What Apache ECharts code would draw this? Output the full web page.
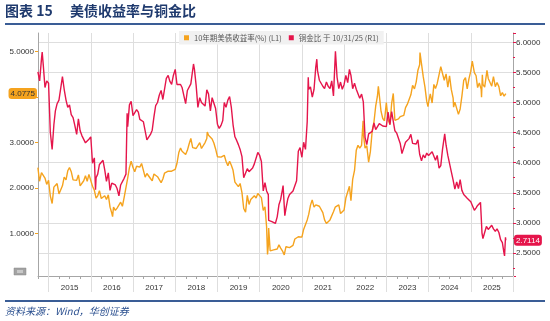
<!DOCTYPE html>
<html>
<head>
<meta charset="utf-8">
<script src="https://cdn.jsdelivr.net/npm/echarts@6/dist/echarts.min.js"></script>
<style>
  html, body { margin: 0; padding: 0; background: #fff; }
  #chart { width: 550px; height: 321px; }
</style>
</head>
<body>
<div id="chart"></div>
<script>
// ---- data -------------------------------------------------------------
const yearLabels = ['2015', '2016', '2017', '2018', '2019', '2020', '2021', '2022', '2023', '2024', '2025'];

// 10-year US Treasury yield (%), left axis
const yieldDates = [
  '2014-10-01','2014-10-15','2014-11-01','2014-11-16','2014-12-01','2014-12-16',
  '2015-01-01','2015-01-16','2015-02-01','2015-02-16','2015-03-01','2015-03-16','2015-04-01','2015-04-16','2015-05-01','2015-05-16','2015-06-01','2015-06-16',
  '2015-07-01','2015-07-16','2015-08-01','2015-08-16','2015-09-01','2015-09-16','2015-10-01','2015-10-16','2015-11-01','2015-11-16','2015-12-01','2015-12-16',
  '2016-01-01','2016-01-16','2016-02-01','2016-02-16','2016-03-01','2016-03-16','2016-04-01','2016-04-16','2016-05-01','2016-05-16','2016-06-01','2016-06-16',
  '2016-07-01','2016-07-08','2016-07-16','2016-08-01','2016-08-16','2016-09-01','2016-09-16','2016-10-01','2016-10-16','2016-11-01','2016-11-16','2016-12-01','2016-12-16',
  '2017-01-01','2017-01-16','2017-02-01','2017-02-16','2017-03-01','2017-03-16','2017-04-01','2017-04-16','2017-05-01','2017-05-16','2017-06-01','2017-06-16',
  '2017-07-01','2017-07-16','2017-08-01','2017-08-16','2017-09-01','2017-09-16','2017-10-01','2017-10-16','2017-11-01','2017-11-16','2017-12-01','2017-12-16',
  '2018-01-01','2018-01-16','2018-02-01','2018-02-16','2018-03-01','2018-03-16','2018-04-01','2018-04-16','2018-05-01','2018-05-16','2018-06-01','2018-06-16',
  '2018-07-01','2018-07-16','2018-08-01','2018-08-16','2018-09-01','2018-09-16','2018-10-01','2018-10-05','2018-10-16','2018-11-01','2018-11-16','2018-12-01','2018-12-16',
  '2019-01-01','2019-01-16','2019-02-01','2019-02-16','2019-03-01','2019-03-16','2019-04-01','2019-04-16','2019-05-01','2019-05-16','2019-06-01','2019-06-16',
  '2019-07-01','2019-07-16','2019-08-01','2019-08-16','2019-09-01','2019-09-16','2019-10-01','2019-10-16','2019-11-01','2019-11-16','2019-12-01','2019-12-16',
  '2020-01-01','2020-01-16','2020-02-01','2020-02-16','2020-03-01','2020-03-09','2020-03-16','2020-03-19','2020-04-01','2020-04-16','2020-05-01','2020-05-16','2020-06-01','2020-06-16',
  '2020-07-01','2020-07-16','2020-08-01','2020-08-16','2020-09-01','2020-09-16','2020-10-01','2020-10-16','2020-11-01','2020-11-16','2020-12-01','2020-12-16',
  '2021-01-01','2021-01-16','2021-02-01','2021-02-16','2021-03-01','2021-03-16','2021-03-31','2021-04-16','2021-05-01','2021-05-16','2021-06-01','2021-06-16',
  '2021-07-01','2021-07-16','2021-08-01','2021-08-16','2021-09-01','2021-09-16','2021-10-01','2021-10-16','2021-11-01','2021-11-16','2021-12-01','2021-12-16',
  '2022-01-01','2022-01-16','2022-02-01','2022-02-16','2022-03-01','2022-03-16','2022-04-01','2022-04-16','2022-05-01','2022-05-16','2022-06-01','2022-06-14','2022-06-16',
  '2022-07-01','2022-07-16','2022-08-01','2022-08-16','2022-09-01','2022-09-16','2022-10-01','2022-10-16','2022-10-24','2022-11-01','2022-11-16','2022-12-01','2022-12-16',
  '2023-01-01','2023-01-16','2023-02-01','2023-02-16','2023-03-02','2023-03-16','2023-04-01','2023-04-16','2023-05-01','2023-05-16','2023-06-01','2023-06-16',
  '2023-07-01','2023-07-16','2023-08-01','2023-08-16','2023-09-01','2023-09-16','2023-10-01','2023-10-16','2023-10-19','2023-11-01','2023-11-16','2023-12-01','2023-12-16','2023-12-27',
  '2024-01-01','2024-01-16','2024-02-01','2024-02-16','2024-03-01','2024-03-16','2024-04-01','2024-04-16','2024-04-25','2024-05-01','2024-05-16','2024-06-01','2024-06-16',
  '2024-07-01','2024-07-16','2024-08-01','2024-08-05','2024-08-16','2024-09-01','2024-09-16','2024-10-01','2024-10-16','2024-11-01','2024-11-16','2024-12-01','2024-12-16',
  '2025-01-01','2025-01-14','2025-02-01','2025-02-16','2025-03-01','2025-03-16','2025-04-01','2025-04-04','2025-04-11','2025-04-16','2025-05-01','2025-05-21','2025-06-01','2025-06-16',
  '2025-07-01','2025-07-16','2025-08-01','2025-08-16','2025-09-01','2025-09-16','2025-10-01','2025-10-16','2025-10-31'
];
const yieldValues = [
  2.45, 2.15, 2.34, 2.32, 2.22, 2.08,
  2.17, 1.83, 1.66, 2.02, 2.00, 2.10, 1.87, 1.88, 2.05, 2.24, 2.18, 2.38,
  2.45, 2.36, 2.18, 2.20, 2.17, 2.29, 2.05, 2.03, 2.16, 2.27, 2.15, 2.30,
  2.27, 2.04, 1.95, 1.78, 1.83, 1.94, 1.77, 1.76, 1.83, 1.75, 1.85, 1.58,
  1.45, 1.37, 1.58, 1.51, 1.56, 1.57, 1.69, 1.60, 1.79, 1.83, 2.22, 2.45, 2.59,
  2.45, 2.36, 2.48, 2.45, 2.46, 2.54, 2.39, 2.24, 2.32, 2.33, 2.21, 2.16,
  2.31, 2.31, 2.25, 2.22, 2.12, 2.20, 2.33, 2.30, 2.37, 2.37, 2.37, 2.35,
  2.41, 2.54, 2.78, 2.88, 2.81, 2.85, 2.74, 2.83, 2.97, 3.09, 2.89, 2.92,
  2.87, 2.85, 3.00, 2.87, 2.86, 3.00, 3.09, 3.23, 3.16, 3.14, 3.08, 2.99, 2.86,
  2.69, 2.72, 2.68, 2.66, 2.72, 2.59, 2.49, 2.59, 2.50, 2.39, 2.13, 2.09,
  2.03, 2.10, 1.90, 1.55, 1.47, 1.84, 1.64, 1.75, 1.73, 1.83, 1.78, 1.88,
  1.92, 1.79, 1.51, 1.59, 1.15, 0.54, 0.73, 1.12, 0.62, 0.63, 0.64, 0.64, 0.66, 0.75,
  0.68, 0.62, 0.53, 0.71, 0.68, 0.69, 0.68, 0.74, 0.88, 0.91, 0.93, 0.92,
  0.92, 1.09, 1.09, 1.30, 1.42, 1.62, 1.74, 1.58, 1.63, 1.64, 1.60, 1.57,
  1.46, 1.30, 1.22, 1.26, 1.30, 1.33, 1.48, 1.58, 1.56, 1.63, 1.44, 1.41,
  1.52, 1.78, 1.79, 2.04, 1.72, 2.19, 2.39, 2.83, 2.94, 2.88, 2.94, 3.48, 3.20,
  2.88, 2.93, 2.57, 2.80, 3.26, 3.45, 3.80, 4.02, 4.24, 4.05, 3.69, 3.53, 3.48,
  3.88, 3.51, 3.40, 3.86, 4.08, 3.49, 3.47, 3.52, 3.57, 3.53, 3.60, 3.77,
  3.84, 3.81, 4.05, 4.26, 4.18, 4.33, 4.59, 4.71, 4.98, 4.73, 4.45, 4.22, 3.91, 3.79,
  3.88, 4.07, 3.87, 4.28, 4.19, 4.30, 4.33, 4.67, 4.70, 4.63, 4.37, 4.51, 4.22,
  4.47, 4.17, 3.98, 3.78, 3.89, 3.91, 3.62, 3.74, 4.02, 4.37, 4.43, 4.18, 4.40,
  4.57, 4.79, 4.54, 4.47, 4.21, 4.31, 4.17, 4.00, 4.49, 4.28, 4.22, 4.59, 4.41, 4.45,
  4.24, 4.45, 4.23, 4.32, 4.23, 4.03, 4.10, 4.02, 4.0775
];

// Copper / gold ratio, right axis
const ratioDates = [
  '2014-10-01','2014-10-16','2014-11-01','2014-11-07','2014-11-16','2014-12-01','2014-12-16',
  '2015-01-01','2015-01-16','2015-02-01','2015-02-16','2015-03-01','2015-03-16','2015-04-01','2015-04-16','2015-05-01','2015-05-16','2015-06-01','2015-06-16',
  '2015-07-01','2015-07-16','2015-08-01','2015-08-16','2015-09-01','2015-09-16','2015-10-01','2015-10-16','2015-11-01','2015-11-16','2015-12-01','2015-12-16',
  '2016-01-01','2016-01-16','2016-02-01','2016-02-11','2016-02-16','2016-03-01','2016-03-16','2016-04-01','2016-04-16','2016-05-01','2016-05-16','2016-06-01','2016-06-16',
  '2016-07-01','2016-07-16','2016-08-01','2016-08-16','2016-09-01','2016-09-16','2016-10-01','2016-10-16','2016-11-01','2016-11-11','2016-11-16','2016-12-01','2016-12-16',
  '2017-01-01','2017-01-16','2017-02-01','2017-02-16','2017-03-01','2017-03-16','2017-04-01','2017-04-16','2017-05-01','2017-05-16','2017-06-01','2017-06-16',
  '2017-07-01','2017-07-16','2017-08-01','2017-08-16','2017-09-01','2017-09-16','2017-10-01','2017-10-16','2017-11-01','2017-11-16','2017-12-01','2017-12-16',
  '2018-01-01','2018-01-16','2018-02-01','2018-02-16','2018-03-01','2018-03-16','2018-04-01','2018-04-16','2018-05-01','2018-05-16','2018-06-01','2018-06-08','2018-06-16',
  '2018-07-01','2018-07-16','2018-08-01','2018-08-16','2018-09-01','2018-09-16','2018-10-01','2018-10-16','2018-11-01','2018-11-16','2018-12-01','2018-12-16',
  '2019-01-01','2019-01-16','2019-02-01','2019-02-16','2019-03-01','2019-03-16','2019-04-01','2019-04-16','2019-05-01','2019-05-16','2019-06-01','2019-06-16',
  '2019-07-01','2019-07-16','2019-08-01','2019-08-16','2019-09-01','2019-09-16','2019-10-01','2019-10-16','2019-11-01','2019-11-16','2019-12-01','2019-12-16',
  '2020-01-01','2020-01-16','2020-02-01','2020-02-16','2020-03-01','2020-03-16','2020-03-19','2020-04-01','2020-04-16','2020-05-01','2020-05-16','2020-06-01','2020-06-16',
  '2020-07-01','2020-07-16','2020-07-22','2020-08-06','2020-08-16','2020-09-01','2020-09-16','2020-10-01','2020-10-16','2020-11-01','2020-11-16','2020-12-01','2020-12-16',
  '2021-01-01','2021-01-16','2021-02-01','2021-02-16','2021-02-25','2021-03-01','2021-03-16','2021-04-01','2021-04-16','2021-05-01','2021-05-10','2021-05-16','2021-06-01','2021-06-16',
  '2021-07-01','2021-07-16','2021-08-01','2021-08-16','2021-09-01','2021-09-16','2021-10-01','2021-10-18','2021-11-01','2021-11-16','2021-12-01','2021-12-16',
  '2022-01-01','2022-01-16','2022-02-01','2022-02-16','2022-03-01','2022-03-16','2022-04-01','2022-04-16','2022-05-01','2022-05-16','2022-06-01','2022-06-16',
  '2022-07-01','2022-07-16','2022-08-01','2022-08-16','2022-09-01','2022-09-16','2022-10-01','2022-10-16','2022-11-01','2022-11-16','2022-12-01','2022-12-16',
  '2023-01-01','2023-01-16','2023-02-01','2023-02-16','2023-03-01','2023-03-16','2023-04-01','2023-04-16','2023-05-01','2023-05-16','2023-06-01','2023-06-16',
  '2023-07-01','2023-07-16','2023-08-01','2023-08-16','2023-09-01','2023-09-16','2023-10-01','2023-10-16','2023-11-01','2023-11-16','2023-12-01','2023-12-16',
  '2024-01-01','2024-01-16','2024-02-01','2024-02-16','2024-03-01','2024-03-16','2024-04-01','2024-04-16','2024-05-01','2024-05-20','2024-06-01','2024-06-16',
  '2024-07-01','2024-07-16','2024-08-01','2024-08-16','2024-09-01','2024-09-16','2024-10-01','2024-10-16','2024-11-01','2024-11-16','2024-12-01','2024-12-16',
  '2025-01-01','2025-01-16','2025-02-01','2025-02-16','2025-03-01','2025-03-16','2025-03-26','2025-04-01','2025-04-08','2025-04-16','2025-05-01','2025-05-16','2025-06-01','2025-06-16',
  '2025-07-01','2025-07-16','2025-08-01','2025-08-16','2025-09-01','2025-09-16','2025-10-01','2025-10-10','2025-10-16','2025-10-20','2025-10-28','2025-10-31'
];
const ratioValues = [
  5.51, 5.36, 5.73, 5.84, 5.63, 5.25, 5.36,
  5.32, 4.51, 4.22, 4.63, 4.86, 4.98, 5.04, 5.04, 5.43, 5.22, 5.04, 4.92,
  4.96, 4.80, 4.75, 4.62, 4.47, 4.73, 4.53, 4.45, 4.47, 4.33, 4.32, 4.39,
  4.43, 3.99, 4.08, 3.55, 3.75, 3.81, 3.97, 3.97, 4.04, 3.88, 3.69, 3.83, 3.54,
  3.66, 3.68, 3.63, 3.57, 3.45, 3.63, 3.65, 3.74, 3.81, 4.82, 4.60, 4.96, 5.02,
  4.78, 4.75, 4.88, 4.84, 4.72, 4.73, 4.68, 4.66, 4.38, 4.40, 4.47, 4.54,
  4.76, 4.95, 5.00, 5.12, 5.20, 5.05, 5.05, 5.40, 5.45, 5.35, 5.30, 5.45,
  5.55, 5.30, 5.28, 5.30, 5.25, 5.25, 4.98, 5.20, 5.21, 5.31, 5.33, 5.64, 5.55,
  5.28, 4.92, 5.08, 5.00, 5.00, 4.94, 5.21, 5.14, 4.86, 5.08, 5.06, 4.90,
  4.64, 4.57, 4.62, 4.70, 5.00, 4.92, 5.04, 5.10, 4.92, 4.63, 4.43, 4.37,
  4.30, 4.22, 4.10, 3.75, 3.73, 3.90, 3.85, 3.86, 3.91, 3.98, 3.99, 4.17,
  4.12, 4.02, 3.53, 3.67, 3.53, 3.47, 3.04, 3.04, 3.02, 3.00, 2.99, 3.10, 3.30,
  3.39, 3.55, 3.62, 3.12, 3.24, 3.40, 3.47, 3.47, 3.53, 3.56, 3.70, 4.19, 4.25,
  4.09, 4.34, 4.22, 4.68, 5.42, 5.22, 5.26, 5.09, 5.22, 5.59, 5.72, 5.53, 5.37, 5.36,
  5.27, 5.23, 5.34, 5.27, 5.23, 5.36, 5.11, 5.85, 5.42, 5.23, 5.34, 5.22,
  5.30, 5.45, 5.33, 5.55, 5.45, 5.23, 5.32, 5.22, 5.20, 5.07, 5.14, 5.01,
  4.42, 4.30, 4.48, 4.51, 4.52, 4.66, 4.55, 4.55, 4.65, 4.68, 4.61, 4.64,
  4.60, 4.84, 4.63, 4.85, 4.84, 4.53, 4.49, 4.50, 4.32, 4.15, 4.12, 4.34,
  4.32, 4.40, 4.47, 4.32, 4.33, 4.31, 4.38, 4.14, 4.03, 4.13, 4.08, 4.16,
  4.12, 4.09, 4.18, 4.18, 4.04, 4.12, 3.91, 3.95, 4.22, 4.48, 4.29, 4.12,
  4.12, 3.85, 3.71, 3.56, 3.68, 3.57, 3.72, 3.54, 3.47, 3.50, 3.41, 3.40,
  3.35, 3.35, 3.21, 3.25, 3.29, 3.28, 3.34, 3.11, 2.83, 2.74, 2.84, 2.94, 2.89, 2.86,
  2.96, 2.90, 2.86, 2.90, 2.84, 2.72, 2.67, 2.64, 2.49, 2.45, 2.76, 2.7114
];

const seriesNames = ['10年期美债收益率(%) (L1)', '铜金比 于 10/31/25 (R1)'];

// ---- helpers ----------------------------------------------------------
const ORANGE = '#F5A31E';
const RED = '#E5154B';
const GRID = '#dedede';
const AXIS = '#a6a6a6';
const NUM_FONT = 'Liberation Sans, Arial, sans-serif';
const CJK_FONT = '"Noto Sans CJK SC", sans-serif';

// date string -> fractional year
function toYear(s) {
  const [y, m, d] = s.split('-').map(Number);
  const t0 = Date.UTC(y, 0, 1), t1 = Date.UTC(y + 1, 0, 1);
  return y + (Date.UTC(y, m - 1, d) - t0) / (t1 - t0);
}
const pairs = (ds, vs) => ds.map((d, i) => [toYear(d), vs[i]]);

// quarter boundaries across the time span, used for ticks, year lines and labels
const xStart = Number(yearLabels[0]) - 0.25;
const xEnd = Number(yearLabels[yearLabels.length - 1]) + 1;
const quarters = [];
for (let q = xStart; q <= xEnd + 1e-9; q += 0.25) quarters.push(q.toFixed(2));
const isYearStart = (i, v) => Math.abs(Number(v) % 1) < 1e-9;
const yearOfMid = v => {
  const n = Number(v);
  return Math.abs(n % 1 - 0.5) < 1e-9 ? String(Math.floor(n)) : '';
};

const lastYield = yieldValues[yieldValues.length - 1];
const lastRatio = ratioValues[ratioValues.length - 1];

const chart = echarts.init(document.getElementById('chart'), null, { renderer: 'canvas' });

chart.setOption({
  animation: false,
  backgroundColor: '#fff',
  grid: { left: 38, right: 37, top: 33, bottom: 45, outerBoundsMode: 'none' },
  legend: {
    left: 179, top: 31,
    padding: [3, 5],
    backgroundColor: '#f1f1f1',
    itemWidth: 5, itemHeight: 5, itemGap: 7,
    icon: 'rect',
    textStyle: { fontSize: 7.5, color: '#555', fontFamily: CJK_FONT },
    data: seriesNames
  },
  graphic: [
    { type: 'text', left: 5, top: 4, style: { text: '图表 15', fontSize: 14, fontWeight: 'bold', fill: '#1f3a6e', fontFamily: CJK_FONT } },
    { type: 'text', left: 70, top: 4, style: { text: '美债收益率与铜金比', fontSize: 14, fontWeight: 'bold', fill: '#1f3a6e', fontFamily: CJK_FONT } },
    { type: 'line', shape: { x1: 5, y1: 24, x2: 545, y2: 24 }, style: { stroke: '#3a5d96', lineWidth: 2 } },
    { type: 'line', shape: { x1: 5, y1: 301, x2: 545, y2: 301 }, style: { stroke: '#3a5d96', lineWidth: 2 } },
    { type: 'text', left: 5, top: 306, style: { text: '资料来源：Wind，华创证券', fontSize: 10, fontStyle: 'italic', fill: '#2a4f8f', fontFamily: CJK_FONT } },
    { type: 'rect', shape: { x: 14, y: 268, width: 12, height: 7 }, style: { fill: '#a3a3a3', stroke: '#8a8a8a', lineWidth: 0.5 } },
    { type: 'rect', shape: { x: 17, y: 270, width: 6, height: 3 }, style: { fill: '#c8c8c8' } }
  ],
  xAxis: [
    { // value axis carrying the series
      type: 'value', min: xStart, max: xEnd, show: false,
      splitLine: { show: false }
    },
    { // quarter ticks, year grid lines and year labels
      type: 'category', data: quarters, boundaryGap: false, position: 'bottom',
      axisLine: { show: true, lineStyle: { color: AXIS, width: 1 } },
      axisTick: { show: true, interval: 0, length: 3, lineStyle: { color: AXIS } },
      splitLine: { show: true, interval: isYearStart, lineStyle: { color: GRID, width: 1 } },
      axisLabel: { interval: 0, formatter: yearOfMid, fontSize: 8, color: '#333', margin: 8, fontFamily: NUM_FONT }
    },
    { // year separators running through the label band
      type: 'category', data: quarters, boundaryGap: false, position: 'bottom',
      axisLine: { show: false },
      axisTick: { show: true, interval: isYearStart, length: 16, lineStyle: { color: GRID } },
      axisLabel: { show: false },
      splitLine: { show: false }
    }
  ],
  yAxis: [
    {
      type: 'value', position: 'left', min: 0.066, max: 5.41, splitNumber: 5,
      axisLine: { show: true, lineStyle: { color: AXIS } },
      axisTick: { show: true, length: 3, lineStyle: { color: ORANGE } },
      axisLabel: { showMinLabel: false, showMaxLabel: false, fontSize: 8, color: '#333', margin: 4, fontFamily: NUM_FONT, formatter: v => v.toFixed(4) },
      splitLine: { show: false },
      axisPointer: {
        show: true, type: 'line', value: lastYield, status: 'show', triggerTooltip: false,
        lineStyle: { opacity: 0 },
        label: { show: true, formatter: p => Number(p.value).toFixed(4), backgroundColor: ORANGE, color: '#333', fontSize: 8, fontFamily: NUM_FONT, padding: [2, 2, 1, 2], borderRadius: 3, margin: 1 }
      }
    },
    {
      type: 'value', position: 'right', min: 2.117, max: 6.155, splitNumber: 8,
      axisLine: { show: true, lineStyle: { color: AXIS } },
      axisTick: { show: true, length: 3, lineStyle: { color: RED } },
      minorTick: { show: true, splitNumber: 2, length: 2, lineStyle: { color: RED } },
      axisLabel: { showMinLabel: false, showMaxLabel: false, fontSize: 8, color: '#333', margin: 3, fontFamily: NUM_FONT, formatter: v => v.toFixed(4) },
      splitLine: { show: true, showMinLine: false, showMaxLine: false, lineStyle: { color: GRID, width: 1 } },
      axisPointer: {
        show: true, type: 'line', value: lastRatio, status: 'show', triggerTooltip: false,
        lineStyle: { opacity: 0 },
        label: { show: true, formatter: p => Number(p.value).toFixed(4), backgroundColor: RED, color: '#fff', fontSize: 8, fontFamily: NUM_FONT, padding: [2, 2, 1, 2], borderRadius: 3, margin: 1 }
      }
    }
  ],
  series: [
    {
      name: seriesNames[0], type: 'line', xAxisIndex: 0, yAxisIndex: 0,
      data: pairs(yieldDates, yieldValues),
      showSymbol: false, symbol: 'none',
      lineStyle: { color: ORANGE, width: 1.4 }, itemStyle: { color: ORANGE }
    },
    {
      name: seriesNames[1], type: 'line', xAxisIndex: 0, yAxisIndex: 1,
      data: pairs(ratioDates, ratioValues),
      showSymbol: false, symbol: 'none',
      lineStyle: { color: RED, width: 1.4 }, itemStyle: { color: RED }
    }
  ]
});
</script>
</body>
</html>
